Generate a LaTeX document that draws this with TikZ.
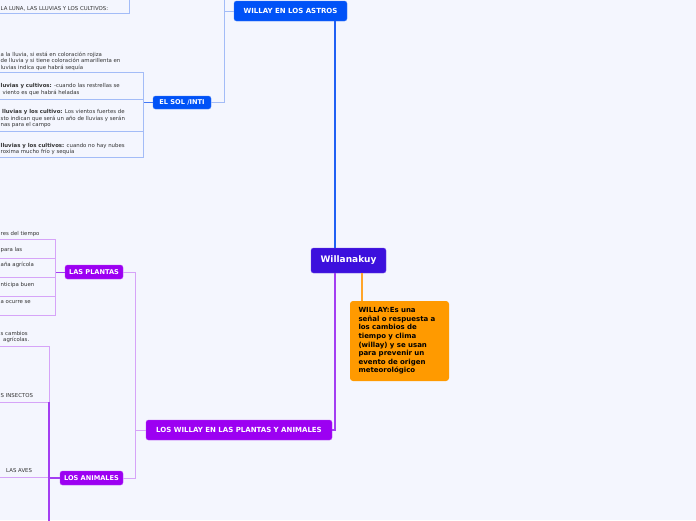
\documentclass[tikz,border=0pt]{standalone}
\usepackage{fontspec}
\setmainfont{DejaVu Sans}
\usepackage{xcolor}
\usepackage{tikz}
\usetikzlibrary{calc}

\definecolor{fondo}{HTML}{F4F6FE}
\definecolor{azul}{HTML}{0052F7}
\definecolor{lineaazul}{HTML}{2060F4}
\definecolor{lineaazulclara}{HTML}{A3BCF7}
\definecolor{indigo}{HTML}{3C10DD}
\definecolor{morado}{HTML}{9C00F2}
\definecolor{lineamorado}{HTML}{A33EF2}
\definecolor{lineamoradoclara}{HTML}{D6A4F8}
\definecolor{naranja}{HTML}{FF9A00}
\definecolor{lineanaranja}{HTML}{FFA52A}
\definecolor{gris}{HTML}{333333}

\begin{document}
\begin{tikzpicture}[x=1pt,y=-1pt,
    caja/.style={fill=#1, draw=#1!75!white, rounded corners=2.5pt, text=white,
      inner sep=0pt, font=\bfseries\fontsize{6.6}{7}\selectfont},
    tronco/.style={line width=1.6pt},
    rama/.style={line width=1pt},
    texto/.style={anchor=north west, inner sep=0pt, align=left, text=gris,
      font=\fontsize{5.4}{6.6}\selectfont}]

  \useasboundingbox (0,0) rectangle (696,520);
  \fill[fondo] (0,0) rectangle (696,520);
  \clip (0,0) rectangle (696,520);

  % main topics
  \node[caja=azul, minimum width=113pt, minimum height=20pt,
        font=\bfseries\fontsize{7}{8}\selectfont] (astros) at (290.5,11) {WILLAY EN LOS ASTROS};
  \node[caja=indigo, minimum width=75pt, minimum height=25pt,
        font=\bfseries\fontsize{9}{10}\selectfont] (wk) at (348.5,260.5) {Willanakuy};
  \node[caja=azul, minimum width=58pt, minimum height=13pt] (sol) at (182,102.5) {EL SOL /INTI};
  \node[caja=morado, minimum width=186pt, minimum height=20pt,
        font=\bfseries\fontsize{7}{8}\selectfont] (lw) at (239,430) {LOS WILLAY EN LAS PLANTAS Y ANIMALES};
  \node[caja=morado, minimum width=58pt, minimum height=14pt] (plantas) at (94,272) {LAS PLANTAS};
  \node[caja=morado, minimum width=63pt, minimum height=14pt] (animales) at (91.5,478) {LOS ANIMALES};
  \node[fill=naranja, rounded corners=3pt, text=black, align=left, text width=82pt,
        inner xsep=8.5pt, inner ysep=0pt, minimum height=80pt,
        font=\bfseries\fontsize{7}{8.6}\selectfont] (nota) at (399.5,341)
        {WILLAY:Es una\\señal o respuesta a\\los cambios de\\tiempo y clima\\(willay) y se usan\\para prevenir un\\evento de origen\\meteorológico};

  % connectors
  \draw[tronco, lineaazul] ([xshift=-12pt]astros.south east) -- ([xshift=-12pt]astros.south east |- wk.north);
  \draw[tronco, lineanaranja] ([xshift=-24pt]wk.south east) -- ([xshift=-24pt]wk.south east |- nota.north);
  \draw[tronco, lineamorado] ([xshift=24pt]wk.south west) |- (lw.east);

  \coordinate (eje) at (224,-5);
  \draw[rama, lineaazulclara] (sol.east) -| (eje);
  \draw[rama, lineaazulclara] (astros.west) -- (astros.west -| eje);
  \draw[rama, lineaazul!85!white] (sol.west) -- ++(-10,0);

  \draw[rama, lineamoradoclara] (plantas.east) -| ([xshift=-10pt]lw.west) |- (animales.east);
  \draw[rama, lineamoradoclara] (lw.west) -- ++(-10,0);
  \draw[rama, lineamorado] (plantas.west) -- ++(-10,0);
  \draw[tronco, lineamorado] (animales.west) -- ++(-11,0);

  % sub topic boxes (cut at the left edge)
  \draw[rama, lineaazulclara] (-5,13) -- (129,13) -- (129,-5);
  \draw[rama, lineaazulclara] (-5,72) -| (143,157) -- (-5,157);
  \draw[rama, lineaazulclara] (-5,99) -- (143,99);
  \draw[rama, lineaazulclara] (-5,131) -- (143,131);

  \draw[rama, lineamoradoclara] (-5,239.5) -| (55,315) -- (-5,315);
  \draw[rama, lineamoradoclara] (-5,258) -- (55,258);
  \draw[rama, lineamoradoclara] (-5,277) -- (55,277);
  \draw[rama, lineamoradoclara] (-5,296) -- (55,296);

  \draw[rama, lineamoradoclara] (-5,346) -| (49,402) -- (-5,402);
  \draw[rama, lineamoradoclara] (-5,477) -- (49,477);
  \draw[tronco, lineamorado] (49,402) -- (49,525);

  % texts
  \node[texto] (luna) at (0.5,5.8) {LA LUNA, LAS LLUVIAS Y LOS CULTIVOS:};
  \node[texto] (sol1) at (0.5,51.7) {a la lluvia, si está en coloración rojiza\\de lluvia y si tiene coloración amarillenta en\\luvias indica que habrá sequía};
  \node[texto] (sol2) at (0.5,83.1) {\textbf{luvias y cultivos:} -cuando las restrellas se\\\hspace{2pt}viento es que habrá heladas};
  \node[texto] (sol3) at (0.5,109.1) {\hspace{1.5pt}\textbf{lluvias y los cultivo:} Los vientos fuertes de\\sto indican que será un año de lluvias y serán\\nas para el campo};
  \node[texto] (sol4) at (0.5,142.7) {\textbf{lluvias y los cultivos:} cuando no hay nubes\\roxima mucho frío y sequía};

  \node[texto] (pl1) at (0.5,231.4) {res del tiempo};
  \node[texto] (pl2) at (0.5,247.4) {para las};
  \node[texto] (pl3) at (0.5,262.4) {aña agrícola};
  \node[texto] (pl4) at (0.5,281.7) {nticipa buen};
  \node[texto] (pl5) at (0.5,300.7) {a ocurre se};

  \node[texto] (an1) at (0.5,330.7) {s cambios\\\hspace{2.5pt}agrícolas.};
  \node[texto] (an2) at (0.5,393.4) {S INSECTOS};
  \node[texto] (an3) at (6,468.1) {LAS AVES};
\end{tikzpicture}
\end{document}
